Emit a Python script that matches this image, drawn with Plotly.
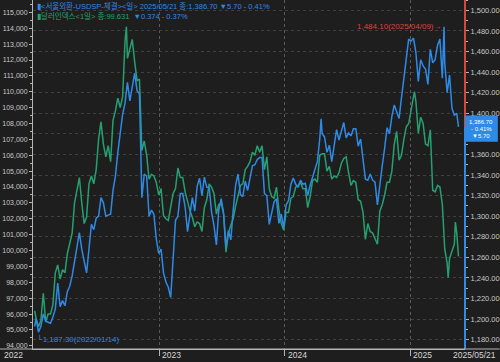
import pandas as pd
import plotly.graph_objects as go

# ---------------- data ----------------
WEEK_START = "2022-01-07"
WEEK_END = "2025-05-16"

DXY_WEEKLY = [
    # 2022
    95.7, 95.2, 95.6, 97.3, 95.5, 96.0, 96.0, 96.6, 98.6, 99.1, 98.2, 98.8, 98.6,
    99.8, 100.5, 101.1, 103.0, 103.7, 104.6, 103.0, 101.7, 102.1, 104.2, 104.7, 104.2,
    105.1, 107.0, 108.1, 106.7, 105.9, 106.6, 105.6, 108.2, 108.8, 109.6, 109.0, 109.7,
    113.2, 112.1, 112.8, 113.3, 111.9, 110.7, 110.8, 106.3, 106.9, 106.0, 104.5, 104.8,
    104.7, 104.3, 103.5,
    # 2023
    103.9, 102.2, 102.0, 101.9, 102.9, 103.6, 103.9, 105.2, 104.6, 104.6, 103.7, 103.1,
    102.5, 102.1, 101.5, 101.8, 101.7, 101.2, 102.7, 103.2, 104.2, 104.0, 103.6, 102.3,
    102.9, 103.0, 102.3, 99.9, 101.1, 101.6, 102.0, 102.8, 103.4, 104.1, 104.2, 105.1,
    105.3, 105.6, 106.2, 106.0, 106.6, 106.2, 106.6, 105.1, 105.9, 103.9, 103.4, 103.3,
    104.0, 102.6, 101.7, 101.3,
    # 2024
    102.4, 102.4, 103.3, 103.4, 104.0, 104.1, 104.3, 103.9, 103.9, 102.7, 103.4, 104.4,
    104.5, 104.3, 106.0, 106.1, 106.1, 105.0, 105.3, 104.5, 104.7, 104.6, 104.9, 105.5,
    105.8, 105.9, 104.9, 104.1, 104.4, 104.3, 103.2, 103.1, 102.4, 100.7, 101.7, 101.2,
    101.1, 100.7, 100.4, 102.5, 102.9, 103.5, 104.3, 104.3, 105.0, 106.7, 107.5, 105.7,
    106.0, 107.0, 107.8, 108.0,
    # 2025
    109.0, 109.7, 109.4, 107.4, 108.4, 108.0, 106.7, 106.6, 107.6, 103.8, 103.7, 104.1,
    104.0, 102.9, 100.1, 99.2, 99.5, 100.0, 100.4, 101.1,
]
DXY_EXTRA_DATES = ["2022-01-03", "2022-09-27", "2025-01-13", "2025-04-21", "2025-05-12", "2025-05-21"]
DXY_EXTRA = [96.2, 114.1, 110.0, 98.3, 101.8, 99.631]

KRW_WEEKLY = [
    # 2022
    1201, 1187.3, 1193, 1205, 1198, 1197, 1196, 1202, 1210, 1235, 1212, 1218, 1213,
    1227, 1232, 1242, 1256, 1272, 1284, 1268, 1255, 1245, 1268, 1292, 1287,
    1298, 1300, 1318, 1313, 1300, 1301, 1302, 1325, 1339, 1362, 1379, 1399,
    1410, 1430, 1412, 1424, 1439, 1422, 1419, 1318, 1341, 1339, 1300, 1306,
    1302, 1278, 1264,
    # 2023
    1268, 1245, 1236, 1231, 1221, 1263, 1296, 1300, 1322, 1322, 1309, 1285,
    1302, 1318, 1305, 1329, 1337, 1320, 1338, 1328, 1328, 1304, 1291, 1272,
    1306, 1317, 1303, 1270, 1286, 1277, 1306, 1330, 1341, 1321, 1319, 1334,
    1325, 1337, 1349, 1350, 1355, 1357, 1357, 1322, 1320, 1292, 1304, 1314,
    1317, 1293, 1302, 1289,
    # 2024
    1311, 1315, 1331, 1337, 1331, 1328, 1335, 1331, 1332, 1320, 1330, 1338,
    1347, 1353, 1375, 1380, 1377, 1362, 1369, 1353, 1369, 1384, 1374, 1382,
    1391, 1376, 1381, 1378, 1385, 1385, 1368, 1375, 1358, 1336, 1335, 1341,
    1335, 1333, 1311, 1333, 1349, 1366, 1386, 1380, 1397, 1408, 1402, 1395,
    1415, 1435, 1450, 1472,
    # 2025
    1470, 1473, 1459, 1431, 1452, 1446, 1443, 1428, 1462, 1449, 1452, 1466,
    1472, 1434, 1449, 1420, 1437, 1405, 1398, 1400,
]
KRW_EXTRA_DATES = ["2022-01-03", "2024-04-16", "2025-04-09", "2025-05-21"]
KRW_EXTRA = [1193, 1394.5, 1484.1, 1386.7]

DXY_TICKS = list(range(94, 116))
DXY_TICKTEXT = [f"{v},000" for v in DXY_TICKS]
KRW_TICKS = list(range(1180, 1501, 20))
KRW_HIDDEN = [1380]  # label covered by the price tag in the original
KRW_TICKTEXT = ["" if v in KRW_HIDDEN else f"{v:,}.00" for v in KRW_TICKS]
YEAR_TICKS = ["2023-01-01", "2024-01-01", "2025-01-01"]
YEAR_LABELS = ["2023", "2024", "2025"]

LEGEND1 = "▮&lt;서울외환-USDSP-체결&gt;&lt;일&gt; 2025/05/21 종:1,386.70 ▼5.70 - 0.41%"
LEGEND2_NAME = "▮달러인덱스&lt;1일&gt; 종:99.631"
LEGEND2_CHG = "▼0.374 - 0.37%"
MAX_LABEL = "1,484.10(2025/04/09)→"
MIN_LABEL = "└1,187.30(2022/01/14)"
TAG_LINES = ["1,386.70", "- 0.41%", "▼5.70"]
LAST_KRW = 1386.7
MAX_POINT = ("2025-04-09", 1484.1)
MIN_POINT = ("2022-01-14", 1187.3)

# ---------------- build ----------------
weeks = pd.date_range(WEEK_START, WEEK_END, freq="W-FRI")
dxy = pd.concat([pd.Series(DXY_WEEKLY, index=weeks),
                 pd.Series(DXY_EXTRA, index=pd.to_datetime(DXY_EXTRA_DATES))]).sort_index()
krw = pd.concat([pd.Series(KRW_WEEKLY, index=weeks),
                 pd.Series(KRW_EXTRA, index=pd.to_datetime(KRW_EXTRA_DATES))]).sort_index()

BG = "#1e1e1e"
BLUE = "#2f8ae6"
GREEN = "#26a070"
RED = "#d8473a"
AXC = "#b4b4b4"
TXT = "#c8c8c8"
FONT = "Liberation Sans, DejaVu Sans, sans-serif"
KFONT = "Liberation Sans, Noto Sans CJK KR, sans-serif"

Y1_RANGE = [93.8, 115.78]
Y2_RANGE = [1171, 1510]
X_RANGE = ["2021-12-29", "2025-06-09"]

fig = go.Figure()
fig.add_trace(go.Scatter(x=dxy.index, y=dxy.values, mode="lines",
                         line=dict(color=GREEN, width=1.5), yaxis="y", hoverinfo="skip"))
fig.add_trace(go.Scatter(x=krw.index, y=krw.values, mode="lines",
                         line=dict(color=BLUE, width=1.5), yaxis="y2", hoverinfo="skip"))

def y2p(v):
    return (v - Y2_RANGE[0]) / (Y2_RANGE[1] - Y2_RANGE[0])

fig.update_layout(
    width=500, height=362, autosize=False,
    margin=dict(l=33, r=33, t=0, b=13),
    paper_bgcolor=BG, plot_bgcolor=BG,
    showlegend=False,
    font=dict(family=FONT, size=8, color=TXT),
    xaxis=dict(type="date", range=X_RANGE, tickvals=YEAR_TICKS, showticklabels=False,
               ticks="outside", ticklen=6, tickcolor=AXC,
               showgrid=True, gridcolor="#5a5a5a", griddash="dot", gridwidth=1,
               showline=True, linecolor=AXC, linewidth=1, zeroline=False, fixedrange=True),
    yaxis=dict(range=Y1_RANGE, tickvals=DXY_TICKS, ticktext=DXY_TICKTEXT,
               ticks="outside", ticklen=3, tickcolor=AXC,
               minor=dict(ticks="outside", ticklen=2, tickcolor=AXC, dtick=0.5),
               showline=True, linecolor=AXC, linewidth=1, showgrid=False, zeroline=False,
               tickfont=dict(size=7, color=TXT, family=FONT)),
    yaxis2=dict(range=Y2_RANGE, overlaying="y", side="right",
                tickvals=KRW_TICKS, ticktext=KRW_TICKTEXT,
                ticks="outside", ticklen=3, tickcolor=AXC,
                minor=dict(ticks="outside", ticklen=2, tickcolor=AXC, dtick=10),
                showline=False, showgrid=True, gridcolor="#404040", griddash="dot",
                zeroline=False, tickfont=dict(size=7.5, color=TXT, family=FONT)),
)

TAG_UP, TAG_DOWN = 11, 14.5  # price-tag extent around the last price, KRW units
shapes = [
    dict(type="line", xref="paper", yref="paper", x0=1, x1=1, y0=y2p(LAST_KRW), y1=1,
         line=dict(color=RED, width=2)),
    dict(type="line", xref="paper", yref="paper", x0=1, x1=1, y0=0, y1=y2p(LAST_KRW),
         line=dict(color=BLUE, width=2)),
    dict(type="line", xref="paper", yref="paper", x0=-0.08, x1=1.08, y0=0, y1=0,
         line=dict(color=AXC, width=1)),
    dict(type="rect", xref="paper", yref="paper", x0=1, x1=1.076,
         y0=y2p(LAST_KRW - TAG_DOWN), y1=y2p(LAST_KRW + TAG_UP),
         fillcolor=BLUE, line=dict(width=0)),
]
fig.update_layout(shapes=shapes)

ann = []
ann.append(dict(text=LEGEND1, xref="paper", yref="paper", x=0.004, y=1, xanchor="left",
                yanchor="top", yshift=1, showarrow=False,
                font=dict(family=KFONT, size=7.5, color=BLUE)))
ann.append(dict(text=f"<span style='color:{GREEN}'>{LEGEND2_NAME}</span>  {LEGEND2_CHG}",
                xref="paper", yref="paper", x=0.004, y=1, xanchor="left", yanchor="top",
                yshift=-9, showarrow=False, font=dict(family=KFONT, size=7.5, color=BLUE)))
ann.append(dict(text=MAX_LABEL, x=MAX_POINT[0], y=MAX_POINT[1], xref="x", yref="y2",
                xanchor="right", yanchor="middle", showarrow=False,
                font=dict(family=FONT, size=8, color=RED)))
ann.append(dict(text=MIN_LABEL, x=MIN_POINT[0], y=MIN_POINT[1], xref="x", yref="y2",
                xanchor="left", yanchor="middle", xshift=-3, yshift=-7, showarrow=False,
                font=dict(family=FONT, size=8, color=BLUE)))
for i, line in enumerate(TAG_LINES):
    ann.append(dict(text=line, x=1.038, y=LAST_KRW, xref="paper", yref="y2",
                    xanchor="center", yanchor="middle", yshift=4.5 - 7 * i, showarrow=False,
                    borderpad=0, font=dict(family=FONT, size=6, color="#ffffff")))
for d, lab in zip(YEAR_TICKS, YEAR_LABELS):
    ann.append(dict(text=lab, x=d, y=0, xref="x", yref="paper", xanchor="left",
                    yanchor="top", xshift=1, yshift=1, showarrow=False,
                    font=dict(family=FONT, size=8.5, color="#d8d8d8")))
ann.append(dict(text="2022", x=-0.072, y=0, xref="paper", yref="paper", xanchor="left",
                yanchor="top", yshift=1, showarrow=False,
                font=dict(family=FONT, size=8.5, color="#d8d8d8")))
ann.append(dict(text="2025/05/21", x=1.076, y=0, xref="paper", yref="paper", xanchor="right",
                yanchor="top", yshift=1, showarrow=False,
                font=dict(family=FONT, size=8.5, color="#d8d8d8")))
fig.update_layout(annotations=ann)

fig.write_html("out.html", config={"displayModeBar": False},
               post_script="document.body.style.margin='0';document.body.style.padding='0';")
